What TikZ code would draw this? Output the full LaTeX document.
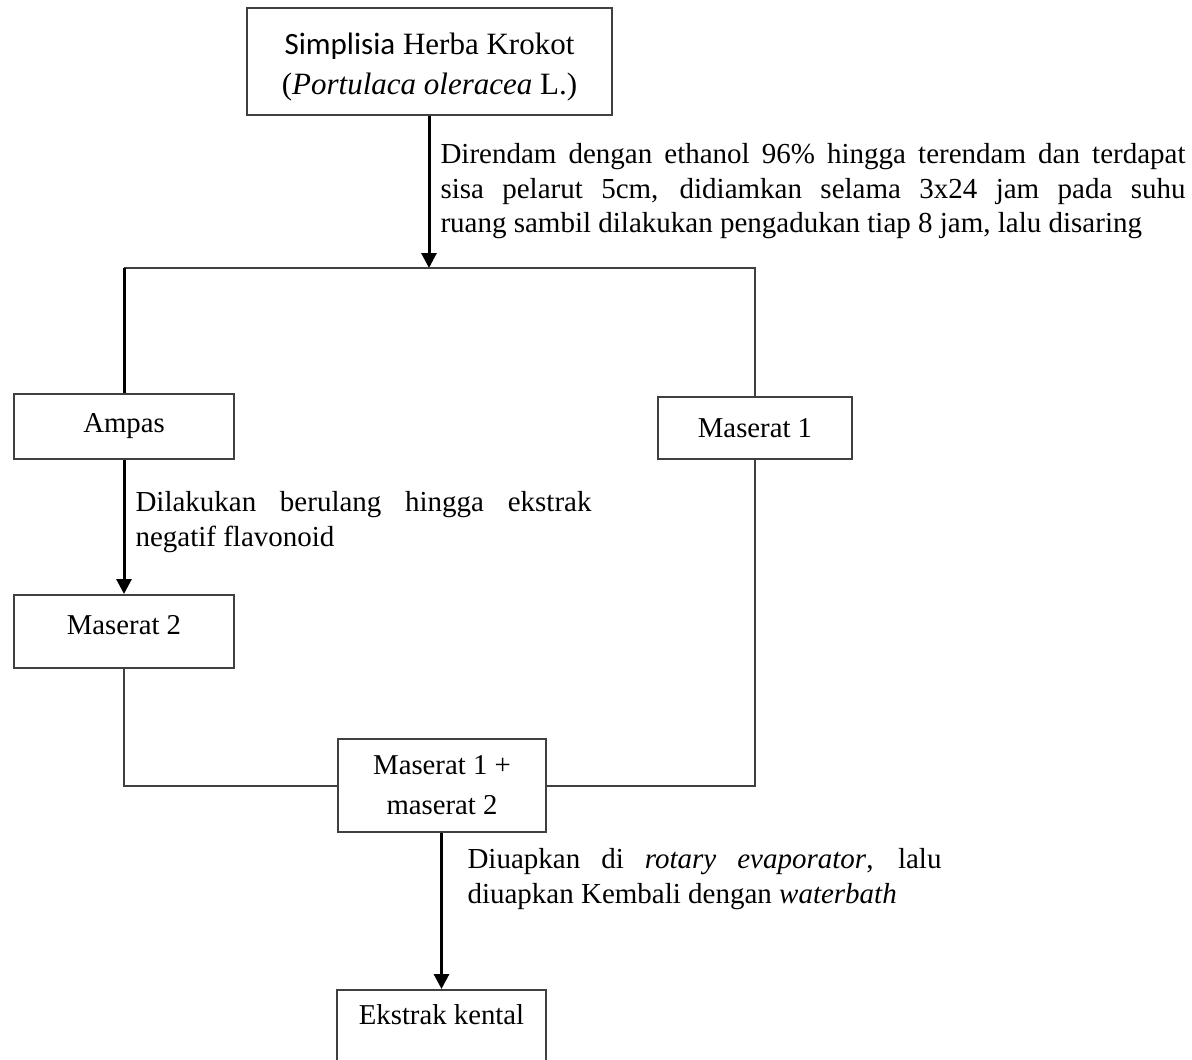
\documentclass[tikz,border=0pt]{standalone}
\usepackage{fontspec}
\setmainfont{Liberation Serif}
\newfontfamily\calibrifont{Carlito}
\usepackage{tikz}
\usetikzlibrary{arrows.meta, positioning, calc}
\hyphenpenalty=10000
\exhyphenpenalty=10000
\tolerance=9999
\tikzset{
    prosesbox/.style={rectangle, draw=black!75, line width=0.8pt, align=center,
                      font=\fontsize{11.5}{16}\selectfont, inner sep=0pt},
    notebox/.style={anchor=north west, align=justify, inner sep=0pt,
                    font=\fontsize{11.6}{13.8}\selectfont},
    arrow/.style={-{Triangle[length=6pt, width=6pt]}, line width=1.2pt, black},
    line/.style={draw=black!75, line width=0.8pt},
    thickline/.style={draw=black, line width=1.2pt},
}
\begin{document}
\begin{tikzpicture}[x=0.4pt, y=-0.4pt]
            \useasboundingbox (0,0) rectangle (1192,1059);
            \node[prosesbox, font=\fontsize{12.4}{16}\selectfont, minimum width=146pt, minimum height=42.8pt] (simplisia) at (429.5, 61.5) {\rule{0pt}{13pt}{\calibrifont Simplisia} Herba Krokot\\(\textit{Portulaca oleracea} L.)};
            \coordinate (split) at (429, 268);
            \node[prosesbox, minimum width=88pt, minimum height=26pt] (ampas) at (124, 426.5) {Ampas};
            \node[prosesbox, minimum width=77.6pt, minimum height=24.8pt] (maserat1) at (755, 428) {Maserat 1};
            \node[prosesbox, minimum width=88pt, minimum height=29.2pt, text depth=5pt] (maserat2) at (124, 631.5) {Maserat 2};
            \node[prosesbox, minimum width=83.2pt, minimum height=37.2pt] (gabung) at (442, 785.5) {Maserat 1 +\\maserat 2};
            \node[prosesbox, anchor=north, minimum width=83.6pt, inner ysep=6pt, text depth=30pt] (ekstrak) at (441.5, 989) {Ekstrak kental};
            
            \node[notebox, text width=298pt] (note1) at (440, 143) {Direndam dengan ethanol 96\% hingga terendam dan terdapat\linebreak sisa pelarut 5cm, didiamkan selama 3x24 jam pada suhu\linebreak ruang sambil dilakukan pengadukan tiap 8 jam, lalu disaring};
            \node[notebox, text width=182.4pt] (note2) at (135, 491) {Dilakukan berulang hingga ekstrak negatif flavonoid};
            \node[notebox, text width=189.6pt] (note3) at (467, 848) {Diuapkan di \textit{rotary evaporator}, lalu diuapkan Kembali dengan \textit{waterbath}};
            
            \draw[arrow] (simplisia.south -| split) -- (split);
            \draw[line] (ampas.north |- split) -- (maserat1.north |- split) -- (maserat1.north);
            \draw[thickline] (ampas.north |- split) -- (ampas.north);
            \draw[arrow] (ampas) -- (maserat2);
            \draw[line] (maserat2.south) |- (gabung.west);
            \draw[line] (maserat1.south) |- (gabung.east);
            \draw[arrow] (gabung.south -| ekstrak.north) -- (ekstrak.north);
        \end{tikzpicture}
\end{document}
